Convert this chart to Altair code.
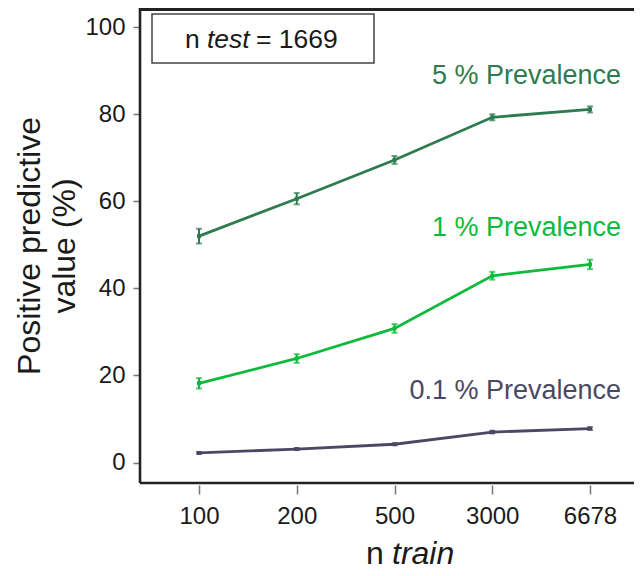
import altair as alt
import pandas as pd

# ---- data ----
n_train = ["100", "200", "500", "3000", "6678"]
series_names = ["5 % Prevalence", "1 % Prevalence", "0.1 % Prevalence"]
ppv_5 = [52.0, 60.6, 69.5, 79.3, 81.1]
err_5 = [1.7, 1.3, 0.9, 0.7, 0.7]
ppv_1 = [18.2, 23.9, 30.8, 42.9, 45.5]
err_1 = [1.2, 1.0, 1.0, 0.9, 1.1]
ppv_01 = [2.2, 3.1, 4.2, 7.0, 7.8]
err_01 = [0.2, 0.2, 0.2, 0.3, 0.3]
label_y = [88.7, 53.8, 16.4]
colors = ["#2f7b50", "#0cba3c", "#4a4863"]
y_ticks = [0, 20, 40, 60, 80, 100]

rows = []
for name, vals, errs in zip(series_names, [ppv_5, ppv_1, ppv_01], [err_5, err_1, err_01]):
    for i, (x, v, e) in enumerate(zip(n_train, vals, errs)):
        rows.append({"series": name, "n": x, "idx": i, "ppv": v, "lo": v - e, "hi": v + e})
df = pd.DataFrame(rows)
lab = pd.DataFrame({"series": series_names, "label": series_names, "y": label_y,
                    "idx": [len(n_train) - 1] * 3})

W, H = 494, 475
FONT = "Liberation Sans"

label_expr = "[" + ",".join("'%s'" % s for s in n_train) + "][datum.value]"
xscale = alt.Scale(domain=[-0.6036, 4.45], nice=False, zero=False)
xs = alt.X("idx:Q", scale=xscale,
           axis=alt.Axis(title=None, values=list(range(len(n_train))), labelExpr=label_expr,
                         labelAngle=0, domain=False, offset=2, tickSize=9,
                         tickColor="#777777", tickWidth=1.5, labelFontSize=24,
                         labelColor="#1a1a1a", labelPadding=10, grid=False, labelFlush=False,
                         labelOverlap=False))
ys = alt.Y("ppv:Q", scale=alt.Scale(domain=[-4.7, 104.4], nice=False, zero=False),
           axis=alt.Axis(title=["Positive predictive", "value (%)"], values=y_ticks,
                         domain=False, tickSize=7, tickColor="#777777", tickWidth=1.5,
                         labelFontSize=24, labelColor="#1a1a1a", labelPadding=8,
                         titleFontSize=32, titleFontWeight="normal", titleColor="#1a1a1a",
                         titleLineHeight=35, titlePadding=3, grid=False))
col = alt.Color("series:N", scale=alt.Scale(domain=series_names, range=colors), legend=None)

base = alt.Chart(df)
lines = base.mark_line(strokeWidth=2.8).encode(x=xs, y=ys, color=col)
bars = base.mark_rule(strokeWidth=2).encode(x=xs, y="lo:Q", y2="hi:Q", color=col)
cap_lo = base.mark_tick(size=6, thickness=2, orient="horizontal").encode(x=xs, y="lo:Q", color=col)
cap_hi = base.mark_tick(size=6, thickness=2, orient="horizontal").encode(x=xs, y="hi:Q", color=col)
pts = base.mark_square(size=16, opacity=1).encode(x=xs, y=ys, color=col)

labels = alt.Chart(lab).mark_text(align="right", baseline="middle", fontSize=27, dx=31, font=FONT).encode(
    x=alt.X("idx:Q", scale=xscale), y=alt.Y("y:Q"), text="label:N", color=col)

one = alt.Chart(pd.DataFrame({"a": [0]}))
frame_top = one.mark_rule(color="#222222", strokeWidth=3).encode(x=alt.value(0), x2=alt.value(W), y=alt.value(1.5))
frame_bottom = one.mark_rule(color="#222222", strokeWidth=2.6).encode(x=alt.value(0), x2=alt.value(W), y=alt.value(H))
frame_left = one.mark_rule(color="#222222", strokeWidth=2.6).encode(x=alt.value(0), y=alt.value(0), y2=alt.value(H))

box = one.mark_rect(fill="white", stroke="#444444", strokeWidth=1.5).encode(
    x=alt.value(12), x2=alt.value(234), y=alt.value(6), y2=alt.value(55))
t_n = one.mark_text(align="left", baseline="middle", fontSize=26.5, font=FONT, color="#1a1a1a").encode(
    x=alt.value(45), y=alt.value(32), text=alt.value("n"))
t_test = one.mark_text(align="left", baseline="middle", fontSize=26.5, font=FONT, fontStyle="italic", color="#1a1a1a").encode(
    x=alt.value(67), y=alt.value(32), text=alt.value("test"))
t_eq = one.mark_text(align="left", baseline="middle", fontSize=26.5, font=FONT, color="#1a1a1a").encode(
    x=alt.value(116), y=alt.value(32), text=alt.value("= 1669"))

xt_n = one.mark_text(align="left", baseline="alphabetic", fontSize=32, font=FONT, color="#1a1a1a").encode(
    x=alt.value(226), y=alt.value(556), text=alt.value("n"))
xt_train = one.mark_text(align="left", baseline="alphabetic", fontSize=32, font=FONT, fontStyle="italic", color="#1a1a1a").encode(
    x=alt.value(252), y=alt.value(556), text=alt.value("train"))

chart = alt.layer(
    lines, bars, cap_lo, cap_hi, pts, labels,
    frame_top, frame_bottom, frame_left,
    box, t_n, t_test, t_eq, xt_n, xt_train
).properties(
    width=W, height=H,
    autosize=alt.AutoSizeParams(type="none"),
    padding={"left": 132, "top": 0, "right": 0, "bottom": 92},
).configure_view(stroke=None).configure(font=FONT)

chart.save("out.html", embed_options={"renderer": "svg", "actions": False})
